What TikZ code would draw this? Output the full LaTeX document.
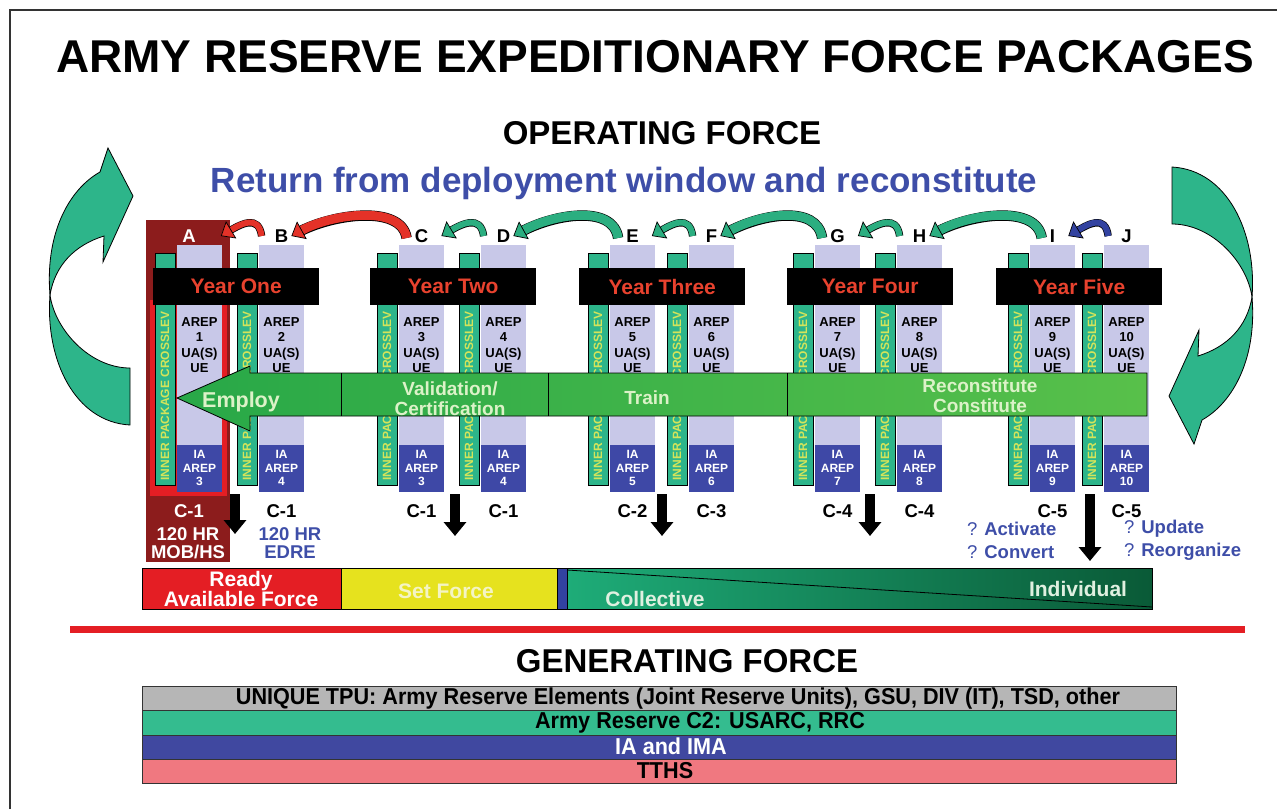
\documentclass[tikz,border=0pt]{standalone}
\usepackage{fontspec}
\setmainfont{Liberation Sans}
\newfontfamily\narrowfont[FakeStretch=0.94]{Liberation Sans}
\usetikzlibrary{arrows.meta,positioning}
\newcommand{\fsz}[2]{\fontsize{#1}{#2}\selectfont\bfseries}
\newcommand{\nsz}[1]{\fontsize{#1}{#1}\narrowfont\bfseries}
\definecolor{lavcol}{RGB}{200,200,232}
\definecolor{iablue}{RGB}{62,72,166}
\definecolor{barteal}{RGB}{45,181,138}
\definecolor{barlime}{RGB}{212,228,90}
\definecolor{darkred}{RGB}{140,28,28}
\definecolor{brightred}{RGB}{228,30,36}
\definecolor{hopteal}{RGB}{43,174,128}
\definecolor{hopred}{RGB}{228,50,40}
\definecolor{hopblue}{RGB}{50,66,160}
\definecolor{txtblue}{RGB}{62,78,168}
\definecolor{yeartxt}{RGB}{232,66,46}
\definecolor{armleft}{RGB}{40,168,72}
\definecolor{armright}{RGB}{88,192,74}
\definecolor{armtxt}{RGB}{220,242,200}
\definecolor{setyel}{RGB}{230,226,30}
\definecolor{colteal}{RGB}{30,172,120}
\definecolor{coldark}{RGB}{10,90,55}
\definecolor{gengray}{RGB}{182,182,182}
\definecolor{genteal}{RGB}{52,188,143}
\definecolor{genblue}{RGB}{64,72,160}
\definecolor{genpink}{RGB}{240,120,128}
\begin{document}
\begin{tikzpicture}[x=1pt,y=-1pt,
  every node/.style={inner sep=1pt},
  crossbar/.style={fill=barteal,draw=black,line width=.8pt},
  crosstxt/.style={rotate=90,text=barlime,font=\fsz{12}{12}},
  areptxt/.style={align=center,font=\fsz{13}{15.2}},
  iatxt/.style={align=center,text=white,font=\fsz{12}{13.5}},
  colletter/.style={font=\fsz{18.5}{18.5}},
  caplabel/.style={font=\fsz{18.5}{18.5}},
  yearbar/.style={fill=black,minimum width=166pt,minimum height=37pt,text=yeartxt,font=\fsz{21}{21},anchor=north west,inner sep=0pt},
  armlabel/.style={text=armtxt,align=center,font=\fsz{19}{20}},
  hop/.style n args={3}{draw=#1,line width=#2,preaction={draw=black,-,line width=#3,shorten >=7pt},-{Triangle[length=12pt,width=20pt,color=black,fill=#1,line width=.7pt]}},
  sidearrow/.style={fill=barteal,draw=black,line width=.8pt},
  droparrow/.style={line width=10pt,-{Triangle[length=14pt,width=22pt]}},
  bluelbl/.style={text=txtblue,font=\fsz{18.5}{23},align=left,anchor=west},
  barlabel/.style={font=\fsz{21}{18},align=center},
  genbar/.style={draw=black!80,line width=1pt,minimum width=1034pt,minimum height=24.25pt,anchor=north west,inner sep=0pt}
]
\useasboundingbox (0,0) rectangle (1277,809);
\draw[line width=2pt,black!80] (10,809) -- (10,10) -- (1277,10);

% titles
\node[anchor=base,font=\fsz{46}{46}] (title) at (655,72) {ARMY RESERVE EXPEDITIONARY FORCE PACKAGES};
\node[anchor=base,font=\fsz{33}{33}] (operating) at (662,144) {OPERATING FORCE};
\node[anchor=base,text=txtblue,font=\fsz{35}{35}] (returnline) at (624,192) {Return from deployment window and reconstitute};

% ready package A
\fill[darkred] (146,220) rectangle (230,562);
\fill[brightred] (150,300) rectangle (227,496);

% packages
\foreach \ltr/\gx/\n/\ia/\cl/\lbx/\tc in {A/155/1/3/C-1/189/white, B/237/2/4/C-1/281.5/black,
  C/377/3/3/C-1/421.5/black, D/459/4/4/C-1/503.5/black, E/588/5/5/C-2/632.5/black,
  F/667/6/6/C-3/711.5/black, G/793/7/7/C-4/837.5/black, H/875/8/8/C-4/919.5/black,
  I/1008/9/9/C-5/1052.5/black, J/1082/10/10/C-5/1126.5/black}{
  \fill[lavcol] (\gx+22,245) rectangle ++(45,247);
  \fill[iablue] (\gx+22,445) rectangle ++(45,47);
  \draw[crossbar] (\gx,253) rectangle ++(20,232);
  \node[crosstxt] (cross\ltr) at (\gx+10,396) {INNER PACKAGE CROSSLEV};
  \node[areptxt] (arep\ltr) at (\gx+44.5,345) {AREP\\\n\\UA(S)\\UE};
  \node[iatxt] (ia\ltr) at (\gx+44.5,468) {IA\\AREP\\\ia};
  \node[colletter,text=\tc] (top\ltr) at (\lbx,236) {\ltr};
  \node[caplabel,text=\tc] (cap\ltr) at (\lbx,511) {\cl};
}

% years
\foreach \yx/\yname [count=\k] in {153/One,370/Two,579/Three,787/Four,996/Five}
  \node[yearbar] (year\k) at (\yx,268) {Year \yname};

% phase arrow
\draw[line width=.8pt,left color=armleft,right color=armright] (1147,373) -- (250,373) -- (250,366) -- (177,398) -- (250,431) -- (250,416) -- (1147,416) -- cycle;
\foreach \sx in {341,548,787}
  \draw[line width=.8pt] (\sx,373) -- (\sx,416);
\node[armlabel,anchor=base,font=\fsz{21.5}{21.5}] (employ) at (241,407) {Employ};
\node[armlabel] (validation) at (450,399) {Validation/\\Certification};
\node[armlabel,anchor=base] (train) at (647,404) {Train};
\node[armlabel] (reconst) at (980,396) {Reconstitute\\Constitute};

% hops between packages
\draw[hop={hopred}{6pt}{7.4pt}] ([xshift=-12pt]topB.west) .. controls +(-3,-22) and +(20,-12) .. ([xshift=24pt]topA.east);
\draw[hop={hopred}{9pt}{10.4pt}] ([xshift=-7pt,yshift=-2pt]topC.west) .. controls +(-5,-34) and +(40,-22) .. ([xshift=2pt]topB.east);
\foreach \from/\to/\col in {D/C/hopteal,F/E/hopteal,H/G/hopteal,J/I/hopblue}
  \draw[hop={\col}{6pt}{7.4pt}] ([xshift=-12pt]top\from.west) .. controls +(-3,-22) and +(20,-12) .. ([xshift=12pt]top\to.east);
\foreach \from/\to in {E/D,G/F,I/H}
  \draw[hop={hopteal}{9pt}{10.4pt}] ([xshift=-7pt,yshift=-2pt]top\from.west) .. controls +(-5,-34) and +(40,-22) .. ([xshift=2pt]top\to.east);

% cycle arrows left and right
\foreach \ang in {0,180}{
  \begin{scope}[rotate around={\ang:(651,296)}]
    \draw[sidearrow] (130,368) -- (130,425) .. controls (75,422) and (45,360) .. (50,295) .. controls (55,330) and (90,368) .. (130,368) -- cycle;
    \draw[sidearrow] (50,295) .. controls (45,235) and (68,190) .. (100,172) -- (108,148) -- (133,196) -- (103,262) -- (104,236) .. controls (75,245) and (55,265) .. (50,295) -- cycle;
  \end{scope}
}

% release arrows
\foreach \dx/\dy [count=\k] in {235/534,455/536,662/536,870/536,1090/561}{
  \coordinate (drop\k) at (\dx,494);
  \coordinate (dropend\k) at (\dx,\dy);
  \draw[droparrow] (drop\k) -- (dropend\k);
}
\node[caplabel,text=white,align=center,font=\fsz{18.5}{18}] (mobhs) at (188,543) {120 HR\\MOB/HS};
\node[caplabel,text=txtblue,align=center,font=\fsz{18.5}{18}] (edre) at (290,543) {120 HR\\EDRE};
\node[bluelbl] (activate) at (966,540) {{\mdseries ?} Activate\\{\mdseries ?} Convert};
\node[bluelbl] (update) at (1123,540) {{\mdseries ?} Update\\{\mdseries ?} Reorganize};

% readiness bar
\draw[line width=.8pt,fill=brightred] (142,568) rectangle (341,609);
\draw[line width=.8pt,fill=setyel] (341,568) rectangle (557,609);
\draw[line width=.8pt,fill=hopblue] (557,568) rectangle (567,609);
\shade[left color=colteal,right color=coldark] (567,568) rectangle (1152,609);
\draw[line width=.8pt] (567,568) rectangle (1152,609);
\draw[line width=.8pt] (567,570) -- (1152,607);
\node[barlabel,text=white] (ready) at (241,589) {Ready\\Available Force};
\node[barlabel,anchor=base,text={rgb,255:red,244;green,244;blue,196}] (setforce) at (446,598) {Set Force};
\node[barlabel,anchor=base,text={rgb,255:red,224;green,240;blue,224}] (collective) at (655,606) {Collective};
\node[barlabel,anchor=base,text={rgb,255:red,224;green,240;blue,224}] (individual) at (1078,596) {Individual};

% generating force
\draw[brightred,line width=7pt] (70,629) -- (1245,629);
\node[anchor=base,font=\fsz{33}{33}] (generating) at (687,672) {GENERATING FORCE};
\foreach \gy/\gcol/\gx/\gtc/\gtxt [count=\k] in {
  686/gengray/678/black/{UNIQUE TPU: Army Reserve Elements (Joint Reserve Units), GSU, DIV (IT), TSD, other},
  710.25/genteal/700/black/{Army Reserve C2: USARC, RRC},
  734.5/genblue/671/white/{IA and IMA},
  758.75/genpink/665/black/{TTHS}}{
  \node[genbar,fill=\gcol] (gen\k) at (142,\gy) {};
  \node[text=\gtc,font=\nsz{23}] (gentext\k) at (\gx,\gy+12.1) {\gtxt};
}
\end{tikzpicture}
\end{document}
